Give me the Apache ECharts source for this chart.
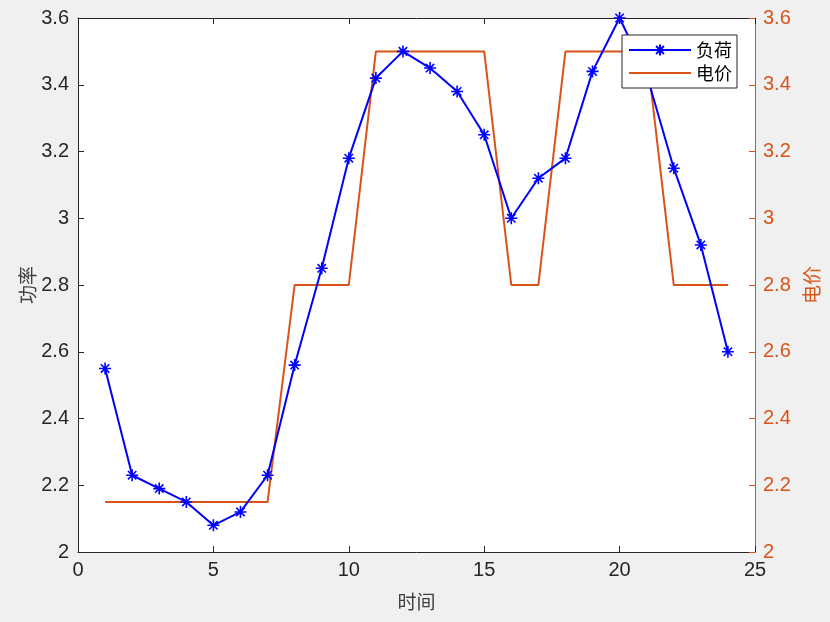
<!DOCTYPE html>
<html>
<head>
<meta charset="utf-8">
<script src="https://cdn.jsdelivr.net/npm/echarts@6/dist/echarts.min.js"></script>
<style>
html,body{margin:0;padding:0;background:#f0f0f0;}
#main{width:830px;height:622px;}
</style>
</head>
<body>
<div id="main"></div>
<script>
const hours = [1,2,3,4,5,6,7,8,9,10,11,12,13,14,15,16,17,18,19,20,21,22,23,24];
const load = [2.55,2.23,2.19,2.15,2.08,2.12,2.23,2.56,2.85,3.18,3.42,3.50,3.45,3.38,3.25,3.00,3.12,3.18,3.44,3.60,3.43,3.15,2.92,2.60];
const price = [2.15,2.15,2.15,2.15,2.15,2.15,2.15,2.8,2.8,2.8,3.5,3.5,3.5,3.5,3.5,2.8,2.8,3.5,3.5,3.5,3.5,2.8,2.8,2.8];
const yTicks = [2,2.2,2.4,2.6,2.8,3,3.2,3.4,3.6];
const xTicks = [0,5,10,15,20,25];
const seriesNames = ['负荷','电价'];
const axisNames = {x:'时间', yLeft:'功率', yRight:'电价'};

const chart = echarts.init(document.getElementById('main'));
const numFont = 'Liberation Sans, Arial, sans-serif';
const cjkFont = 'Noto Sans CJK SC, sans-serif';
const dark = '#262626';
const orange = '#D95319';
const star = 'path://M0,-10L0,10M-10,0L10,0M-7,-7L7,7M-7,7L7,-7';

chart.setOption({
  backgroundColor:'#f0f0f0',
  animation:false,
  grid:{left:78,right:75,top:18,bottom:70,show:true,backgroundColor:'#ffffff',borderWidth:0},
  legend:{
    orient:'vertical',left:622,top:35,
    backgroundColor:'#ffffff',borderColor:dark,borderWidth:1,borderRadius:0,
    padding:[6,5,6,6],itemWidth:62,itemHeight:14,itemGap:5,
    textStyle:{fontFamily:cjkFont,fontSize:18,color:'#000',lineHeight:18},
    data:[
      {name:seriesNames[0]},
      {name:seriesNames[1],itemStyle:{opacity:0}}
    ]
  },
  xAxis:[{
    type:'value',min:xTicks[0],max:xTicks[xTicks.length-1],interval:5,
    name:axisNames.x,nameLocation:'middle',nameGap:40,nameMoveOverlap:false,
    nameTextStyle:{fontFamily:cjkFont,fontSize:19,color:'#404040'},
    axisLine:{show:true,onZero:false,lineStyle:{color:dark,width:1}},
    axisTick:{show:true,inside:true,length:6,lineStyle:{color:dark}},
    axisLabel:{fontFamily:numFont,fontSize:20,color:dark,margin:8},
    splitLine:{show:false}
  },{
    type:'value',position:'top',min:xTicks[0],max:xTicks[xTicks.length-1],interval:5,
    axisLine:{show:true,onZero:false,lineStyle:{color:dark,width:1}},
    axisTick:{show:true,inside:true,length:6,lineStyle:{color:dark}},
    axisLabel:{show:false},splitLine:{show:false}
  }],
  yAxis:[{
    type:'value',position:'left',min:yTicks[0],max:yTicks[yTicks.length-1],interval:0.2,
    name:axisNames.yLeft,nameLocation:'middle',nameGap:41,nameRotate:90,nameMoveOverlap:false,
    nameTextStyle:{fontFamily:cjkFont,fontSize:19,color:'#404040'},
    axisLine:{show:true,onZero:false,lineStyle:{color:dark,width:1}},
    axisTick:{show:true,inside:true,length:6,lineStyle:{color:dark}},
    axisLabel:{fontFamily:numFont,fontSize:20,color:dark,margin:9},
    splitLine:{show:false}
  },{
    type:'value',position:'right',min:yTicks[0],max:yTicks[yTicks.length-1],interval:0.2,
    name:axisNames.yRight,nameLocation:'middle',nameGap:47,nameRotate:90,nameMoveOverlap:false,
    nameTextStyle:{fontFamily:cjkFont,fontSize:19,color:orange},
    axisLine:{show:true,onZero:false,lineStyle:{color:orange,width:1}},
    axisTick:{show:true,inside:true,length:6,lineStyle:{color:orange}},
    axisLabel:{fontFamily:numFont,fontSize:20,color:orange,margin:8},
    splitLine:{show:false}
  }],
  series:[{
    name:seriesNames[0],type:'line',xAxisIndex:0,yAxisIndex:0,
    data:hours.map((h,i)=>[h,load[i]]),
    symbol:star,symbolSize:12,showSymbol:true,
    lineStyle:{color:'#0000ff',width:2},
    itemStyle:{color:'#0000ff',borderColor:'#0000ff',borderWidth:1.6},
    z:3
  },{
    name:seriesNames[1],type:'line',xAxisIndex:0,yAxisIndex:1,
    data:hours.map((h,i)=>[h,price[i]]),
    symbol:'none',showSymbol:false,
    lineStyle:{color:orange,width:2},
    itemStyle:{color:orange},
    z:2
  }]
});
</script>
</body>
</html>
